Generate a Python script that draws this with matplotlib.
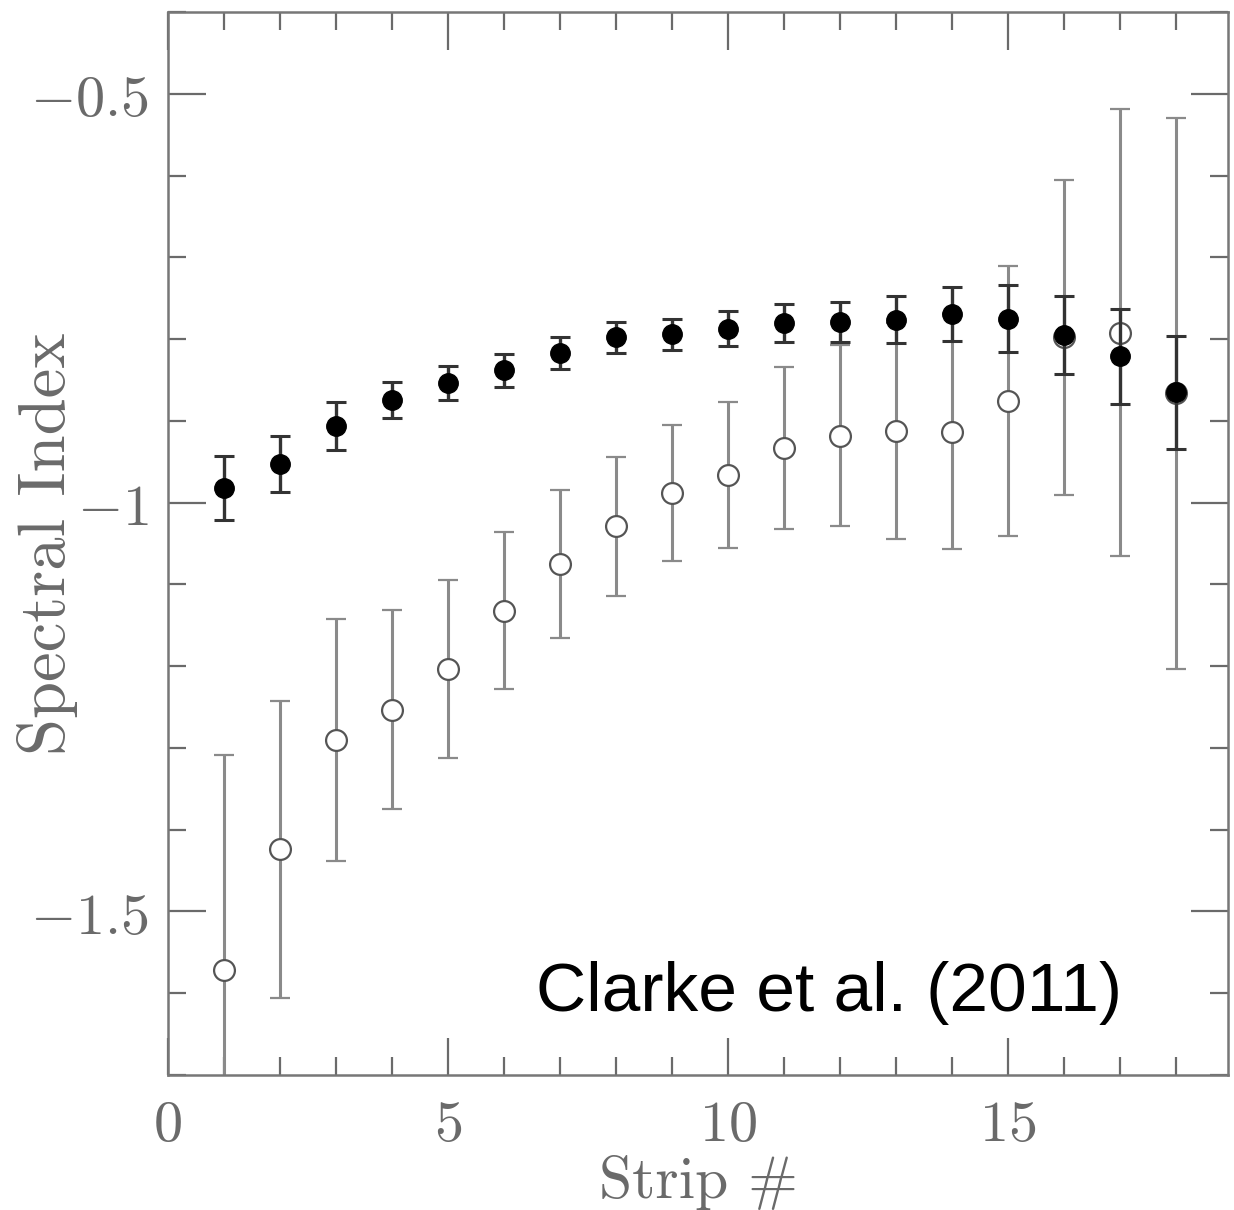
import matplotlib
matplotlib.use("Agg")
import matplotlib.pyplot as plt
from matplotlib.ticker import MultipleLocator, FixedLocator, FuncFormatter

# strip number
strips = list(range(1, 19))

# filled points
filled_y = [-0.982, -0.953, -0.906, -0.875, -0.854, -0.838, -0.817, -0.798, -0.794,
            -0.787, -0.780, -0.779, -0.776, -0.769, -0.775, -0.795, -0.821, -0.865]
filled_err = [0.039, 0.034, 0.029, 0.022, 0.021, 0.020, 0.020, 0.019, 0.019,
              0.021, 0.023, 0.024, 0.029, 0.033, 0.041, 0.048, 0.058, 0.069]

# open points
open_y = [-1.572, -1.424, -1.290, -1.253, -1.203, -1.132, -1.075, -1.029, -0.988,
          -0.966, -0.933, -0.918, -0.912, -0.913, -0.876, -0.798, -0.792, -0.866]
open_err = [0.263, 0.182, 0.148, 0.122, 0.109, 0.096, 0.090, 0.085, 0.083,
            0.089, 0.099, 0.111, 0.132, 0.144, 0.165, 0.193, 0.273, 0.337]

label_font = "cmr10"
grey = "#6a6a6a"

plt.rcParams["mathtext.fontset"] = "cm"
plt.rcParams["axes.unicode_minus"] = True

fig = plt.figure(figsize=(12.34, 12.10), dpi=100)
ax = fig.add_axes([0.136, 0.1116, 0.859, 0.8784])

ax.errorbar(strips, open_y, yerr=open_err, fmt="o", mfc="white", mec="#555555",
            mew=1.6, ms=15, ecolor="#8a8a8a", elinewidth=2.2, capsize=7,
            capthick=2.0, zorder=2)
ax.errorbar(strips, filled_y, yerr=filled_err, fmt="o", mfc="black", mec="black",
            ms=14, ecolor="#333333", elinewidth=2.4, capsize=7, capthick=2.2,
            zorder=3)

ax.set_xlim(0, 18.93)
ax.set_ylim(-1.7, -0.4)

ax.xaxis.set_major_locator(FixedLocator([0, 5, 10, 15]))
ax.xaxis.set_minor_locator(MultipleLocator(1))
ax.yaxis.set_major_locator(FixedLocator([-1.5, -1.0, -0.5]))
ax.yaxis.set_minor_locator(MultipleLocator(0.1))
ax.xaxis.set_major_formatter(FuncFormatter(lambda v, p: f"${v:g}$"))
ax.yaxis.set_major_formatter(FuncFormatter(lambda v, p: f"${v:g}$"))

ax.tick_params(which="both", direction="in", top=True, right=True,
               color=grey, width=1.6, labelcolor=grey, labelsize=42)
ax.tick_params(which="major", length=27)
ax.tick_params(which="minor", length=13)
ax.tick_params(axis="x", which="major", pad=15)
ax.tick_params(axis="y", which="major", pad=14)

for s in ax.spines.values():
    s.set_color("#777777")
    s.set_linewidth(1.8)

ax.set_xlabel("Strip #", fontsize=43, color=grey, family=label_font)
ax.set_ylabel("Spectral Index", fontsize=48, color=grey, family=label_font)
ax.xaxis.set_label_coords(0.501, -0.075)
ax.yaxis.set_label_coords(-0.085, 0.5)

ax.text(11.8, -1.6, "Clarke et al. (2011)", fontsize=50, family="Liberation Sans",
        ha="center", va="center", color="black")

fig.savefig("out.png", dpi=100)
